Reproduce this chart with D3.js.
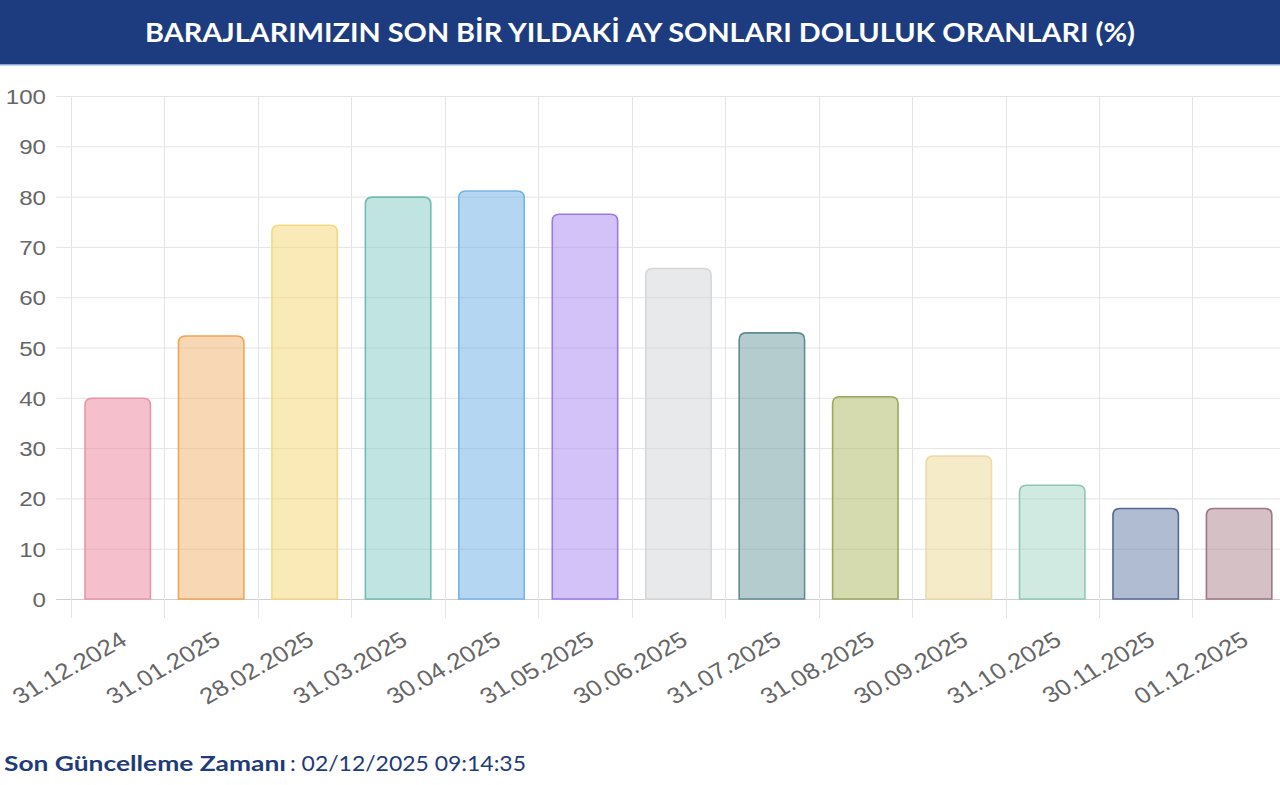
<!DOCTYPE html>
<html>
<head>
<meta charset="utf-8">
<script src="https://cdn.jsdelivr.net/npm/d3@7/dist/d3.min.js"></script>
<style>
  html, body { margin: 0; padding: 0; background: #fff; }
  svg { display: block; }
</style>
</head>
<body>
<svg id="chart" width="1280" height="785"></svg>
<script>
// ---- data ----
const categories = ["31.12.2024","31.01.2025","28.02.2025","31.03.2025","30.04.2025","31.05.2025","30.06.2025","31.07.2025","31.08.2025","30.09.2025","31.10.2025","30.11.2025","01.12.2025"];
const values = [40.1, 52.5, 74.5, 80.1, 81.3, 76.7, 65.9, 53.1, 40.4, 28.6, 22.8, 18.2, 18.2];
const yTicks = [0,10,20,30,40,50,60,70,80,90,100];
const titleText = "BARAJLARIMIZIN SON BİR YILDAKİ AY SONLARI DOLULUK ORANLARI (%)";
const footerLabel = "Son Güncelleme Zamanı";
const footerValue = ": 02/12/2025 09:14:35";

// ---- styles ----
const fillColors = ["rgb(235,129,153)","rgb(241,177,105)","rgb(245,213,113)","rgb(129,201,197)","rgb(105,173,229)","rgb(165,133,241)","rgb(209,211,213)","rgb(107,153,159)","rgb(171,183,95)","rgb(237,215,147)","rgb(161,213,197)","rgb(97,121,165)","rgb(171,129,141)"];
const borderColors = ["rgb(230,150,170)","rgb(238,165,85)","rgb(245,215,130)","rgb(115,188,178)","rgb(120,180,232)","rgb(155,122,228)","rgb(215,215,215)","rgb(95,140,145)","rgb(155,168,95)","rgb(235,220,172)","rgb(145,198,182)","rgb(85,105,145)","rgb(160,118,132)"];

const svg = d3.select("#chart");
const W = 1280, H = 785;
const left = 71, step = 93.45;
const right = left + step * categories.length;
const stretch = 1.15; // horizontal stretch of the reference text

// header
svg.append("rect").attr("x",0).attr("y",0).attr("width",W).attr("height",64).attr("fill","#1d3c80");
svg.append("rect").attr("x",0).attr("y",64).attr("width",W).attr("height",1.5).attr("fill","#8aa6d6");
svg.append("text")
  .attr("x", 640).attr("y", 31)
  .attr("text-anchor","middle").attr("dominant-baseline","central")
  .attr("font-family","Lato, 'Open Sans', sans-serif").attr("font-weight","bold")
  .attr("font-size", 27).attr("fill","#fff")
  .attr("textLength", 990).attr("lengthAdjust","spacingAndGlyphs")
  .text(titleText);

// scales
const x = d3.scaleBand().domain(categories).range([left, right]).padding(0);
const y = d3.scaleLinear().domain([0,100]).range([599, 96]);

// grid: horizontal
const g = svg.append("g");
g.selectAll("line.h").data(yTicks).join("line")
  .attr("x1", 56).attr("x2", W)
  .attr("y1", d => y(d) + 0.5).attr("y2", d => y(d) + 0.5)
  .attr("stroke", d => d === 0 ? "#cfcfcf" : "#e4e4e4").attr("stroke-width", 1);
// grid: vertical (band boundaries)
const bounds = categories.map(c => x(c)).concat([right]);
g.selectAll("line.v").data(bounds).join("line")
  .attr("x1", d => Math.round(d) + 0.5).attr("x2", d => Math.round(d) + 0.5)
  .attr("y1", y(100)).attr("y2", 618)
  .attr("stroke", "#e4e4e4").attr("stroke-width", 1);

// y axis labels
const yAxis = d3.axisLeft(y).tickValues(yTicks).tickSize(0).tickPadding(0);
const ya = svg.append("g").attr("transform", "translate(46,0)").call(yAxis);
ya.select(".domain").remove();
ya.selectAll("text")
  .attr("font-family","'Liberation Sans', Arial, sans-serif")
  .attr("font-size", 21).attr("fill","#666").attr("dy","0.36em")
  .attr("transform", `scale(${stretch},1)`);

// bars
const bw = x.bandwidth() * 0.7;
const r = 7;
function barPath(x0, y0, w, yb) {
  const rr = Math.min(r, (yb - y0) / 2);
  return `M${x0},${yb} L${x0},${y0+rr} Q${x0},${y0} ${x0+rr},${y0} L${x0+w-rr},${y0} Q${x0+w},${y0} ${x0+w},${y0+rr} L${x0+w},${yb} Z`;
}
svg.append("g").selectAll("path").data(values).join("path")
  .attr("d", (d,i) => {
    const cx = x(categories[i]) + x.bandwidth()/2;
    return barPath(cx - bw/2, y(d) + 1, bw, y(0));
  })
  .attr("fill", (d,i) => fillColors[i]).attr("fill-opacity", 0.5)
  .attr("stroke", (d,i) => borderColors[i]).attr("stroke-width", 1.6);

// x axis labels
const xAxis = d3.axisBottom(x).tickSize(0).tickPadding(0);
const xa = svg.append("g").call(xAxis);
xa.select(".domain").remove();
xa.selectAll(".tick").attr("transform", null);
xa.selectAll(".tick text")
  .attr("font-family","'Liberation Sans', Arial, sans-serif")
  .attr("font-size", 22.5).attr("fill","#666")
  .attr("text-anchor","end").attr("dy","0.35em").attr("y", 0)
  .attr("transform", d => `translate(${x(d) + x.bandwidth()/2 + 6},637) scale(${stretch},1) rotate(-33)`);

// footer
svg.append("text")
  .attr("x", 4).attr("y", 771)
  .attr("font-family","Lato, 'Open Sans', sans-serif").attr("font-weight","bold")
  .attr("font-size", 21).attr("fill","#1f3b7a")
  .attr("textLength", 282).attr("lengthAdjust","spacingAndGlyphs")
  .text(footerLabel);
svg.append("text")
  .attr("x", 290).attr("y", 771)
  .attr("font-family","Lato, 'Open Sans', sans-serif")
  .attr("font-size", 21).attr("fill","#1f3b7a")
  .attr("textLength", 236).attr("lengthAdjust","spacingAndGlyphs")
  .text(footerValue);
</script>
</body>
</html>
